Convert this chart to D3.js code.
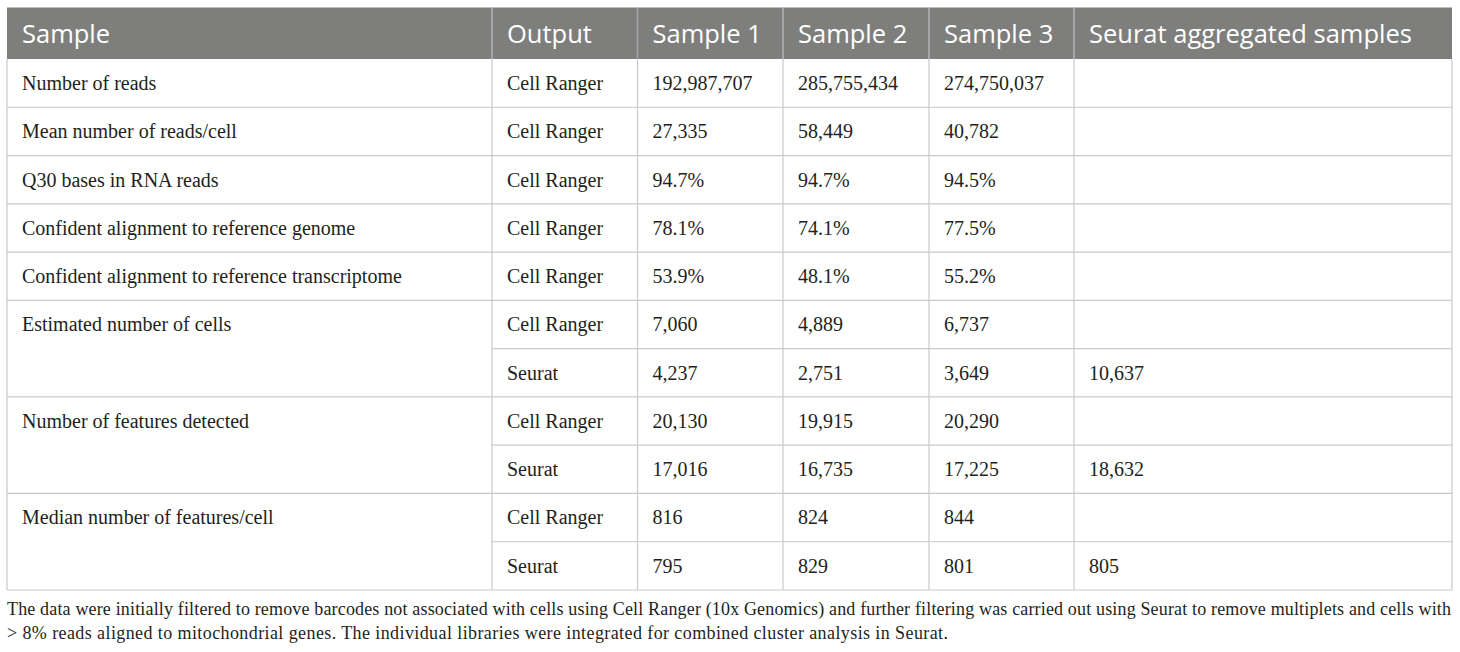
<!DOCTYPE html>
<html>
<head>
<meta charset="utf-8">
<script src="https://cdn.jsdelivr.net/npm/d3@7"></script>
<style>
  html, body { margin: 0; padding: 0; background: #fff; }
  svg { display: block; }
  .serif { font-family: "Liberation Serif", Tinos, "Times New Roman", "DejaVu Serif", serif; }
</style>
</head>
<body>
<div id="chart"></div>
<script>
// Table content
var headers = ["Sample", "Output", "Sample 1", "Sample 2", "Sample 3", "Seurat aggregated samples"];
var metrics = [
    "Number of reads",
    "Mean number of reads/cell",
    "Q30 bases in RNA reads",
    "Confident alignment to reference genome",
    "Confident alignment to reference transcriptome",
    "Estimated number of cells",
    "",
    "Number of features detected",
    "",
    "Median number of features/cell",
    ""
];
var outputs = ["Cell Ranger", "Cell Ranger", "Cell Ranger", "Cell Ranger", "Cell Ranger",
               "Cell Ranger", "Seurat", "Cell Ranger", "Seurat", "Cell Ranger", "Seurat"];
var sample1 = ["192,987,707", "27,335", "94.7%", "78.1%", "53.9%", "7,060", "4,237", "20,130", "17,016", "816", "795"];
var sample2 = ["285,755,434", "58,449", "94.7%", "74.1%", "48.1%", "4,889", "2,751", "19,915", "16,735", "824", "829"];
var sample3 = ["274,750,037", "40,782", "94.5%", "77.5%", "55.2%", "6,737", "3,649", "20,290", "17,225", "844", "801"];
var aggregated = ["", "", "", "", "", "", "10,637", "", "18,632", "", "805"];
var footnote = [
    "The data were initially filtered to remove barcodes not associated with cells using Cell Ranger (10x Genomics) and further filtering was carried out using Seurat to remove multiplets and cells with",
    "> 8% reads aligned to mitochondrial genes. The individual libraries were integrated for combined cluster analysis in Seurat."
];

function init() {
    var w = 1460, h = 652;
    var colEdges = [7, 492, 637.5, 783, 929, 1074, 1452];
    var headTop = 7.5, headBottom = 59, tableBottom = 590;
    var pad = 15;
    var lineColor = "#c9c9c9";
    var noteWidths = [1444, 941];  // first line justified, second a bit looser

    var svg = d3.select("#chart").append("svg")
        .attr("width", w)
        .attr("height", h);

    // row scale over the body rows
    var y = d3.scaleLinear()
        .domain([0, metrics.length])
        .range([headBottom, tableBottom]);

    // header band
    svg.append("rect")
        .attr("x", colEdges[0]).attr("y", headTop)
        .attr("width", colEdges[6] - colEdges[0])
        .attr("height", headBottom - headTop)
        .attr("fill", "#7e7f7d");

    svg.selectAll("text.head")
        .data(headers)
        .enter()
        .append("text")
        .attr("class", "head")
        .attr("x", function(d, i) { return colEdges[i] + pad; })
        .attr("y", 43)
        .attr("fill", "#ffffff")
        .style("font-family", "'Open Sans', sans-serif")
        .style("font-size", "25.5px")
        .text(function(d) { return d; });

    var g = svg.append("g")
        .attr("stroke", lineColor)
        .attr("stroke-width", 1.2)
        .attr("fill", "none");

    // horizontal lines: full width at group starts, partial inside merged groups
    d3.range(1, metrics.length).forEach(function(i) {
        var x0 = metrics[i] === "" ? colEdges[1] : colEdges[0];
        g.append("line")
            .attr("x1", x0).attr("x2", colEdges[6])
            .attr("y1", y(i)).attr("y2", y(i));
    });
    g.append("line")
        .attr("x1", colEdges[0]).attr("x2", colEdges[6])
        .attr("y1", tableBottom).attr("y2", tableBottom);

    // vertical lines
    colEdges.forEach(function(x, i) {
        g.append("line")
            .attr("x1", x).attr("x2", x)
            .attr("y1", (i === 0 || i === 6) ? headBottom : headTop)
            .attr("y2", tableBottom);
    });
    // header separators
    colEdges.slice(1, 6).forEach(function(x) {
        svg.append("line")
            .attr("x1", x).attr("x2", x)
            .attr("y1", headTop).attr("y2", headBottom)
            .attr("stroke", "#a3a3a3")
            .attr("stroke-width", 1.2);
    });

    // body text
    var columns = [metrics, outputs, sample1, sample2, sample3, aggregated];
    columns.forEach(function(col, c) {
        svg.selectAll("text.c" + c)
            .data(col)
            .enter()
            .append("text")
            .attr("class", "serif c" + c)
            .attr("x", colEdges[c] + pad)
            .attr("y", function(d, i) { return y(i) + 31; })
            .attr("fill", "#231f20")
            .style("font-size", "20px")
            .text(function(d) { return d; });
    });

    // footnote
    svg.selectAll("text.note")
        .data(footnote)
        .enter()
        .append("text")
        .attr("class", "serif note")
        .attr("x", 7)
        .attr("y", function(d, i) { return 615 + i * 24; })
        .attr("fill", "#231f20")
        .style("font-size", "18px")
        .attr("textLength", function(d, i) { return noteWidths[i]; })
        .attr("lengthAdjust", "spacing")
        .text(function(d) { return d; });
}

window.onload = init;
</script>
</body>
</html>
